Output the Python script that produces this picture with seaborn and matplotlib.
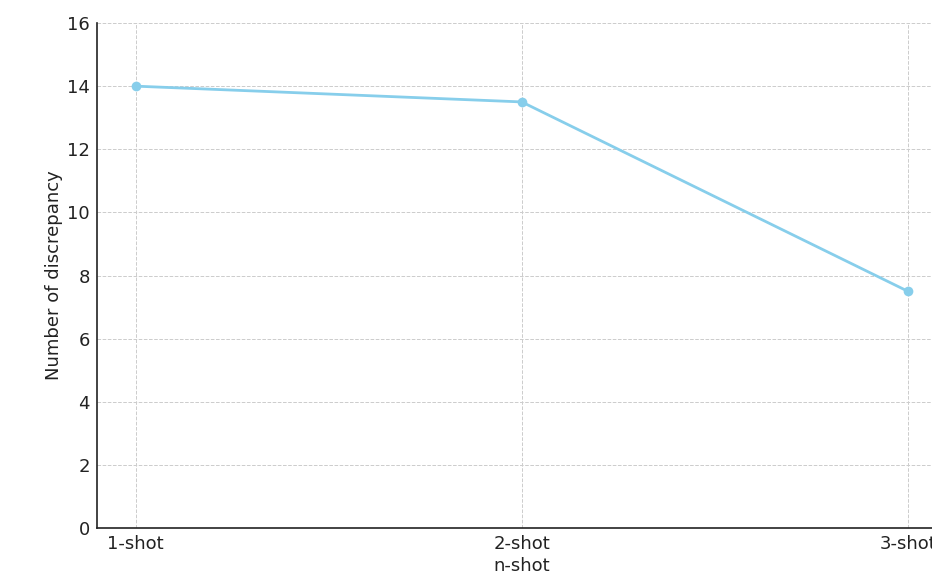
import matplotlib
matplotlib.use("Agg")
import matplotlib.pyplot as plt
import seaborn as sns
import pandas as pd

# data
shots = ["1-shot", "2-shot", "3-shot"]
discrepancy = [14, 13.5, 7.5]

df = pd.DataFrame({"shot": shots, "discrepancy": discrepancy})

sns.set_style("white")
plt.rcParams["font.family"] = ["DejaVu Sans"]

fig = plt.figure(figsize=(9.32, 5.74), dpi=100)
ax = fig.add_axes([0.104, 0.0801, 0.9116, 0.8798])

sns.lineplot(
    data=df, x="shot", y="discrepancy", ax=ax,
    color="skyblue", linewidth=2, marker="o", markersize=7,
    markeredgewidth=0, sort=False
)

ax.set_xlim(-0.1, 2.1)
ax.set_ylim(0, 16)
ax.set_yticks(range(0, 17, 2))
ax.set_xlabel("n-shot", fontsize=13, color="#222222", labelpad=3)
ax.set_ylabel("Number of discrepancy", fontsize=13, color="#222222", labelpad=3)
ax.tick_params(axis="both", direction="in", labelsize=13, colors="#222222", length=4, pad=5)
ax.grid(True, linestyle="--", color="#cccccc", linewidth=0.7)

for side in ["top", "right"]:
    ax.spines[side].set_visible(False)
for side in ["left", "bottom"]:
    ax.spines[side].set_color("#222222")
    ax.spines[side].set_linewidth(1.2)

fig.savefig("out.png", dpi=100)
